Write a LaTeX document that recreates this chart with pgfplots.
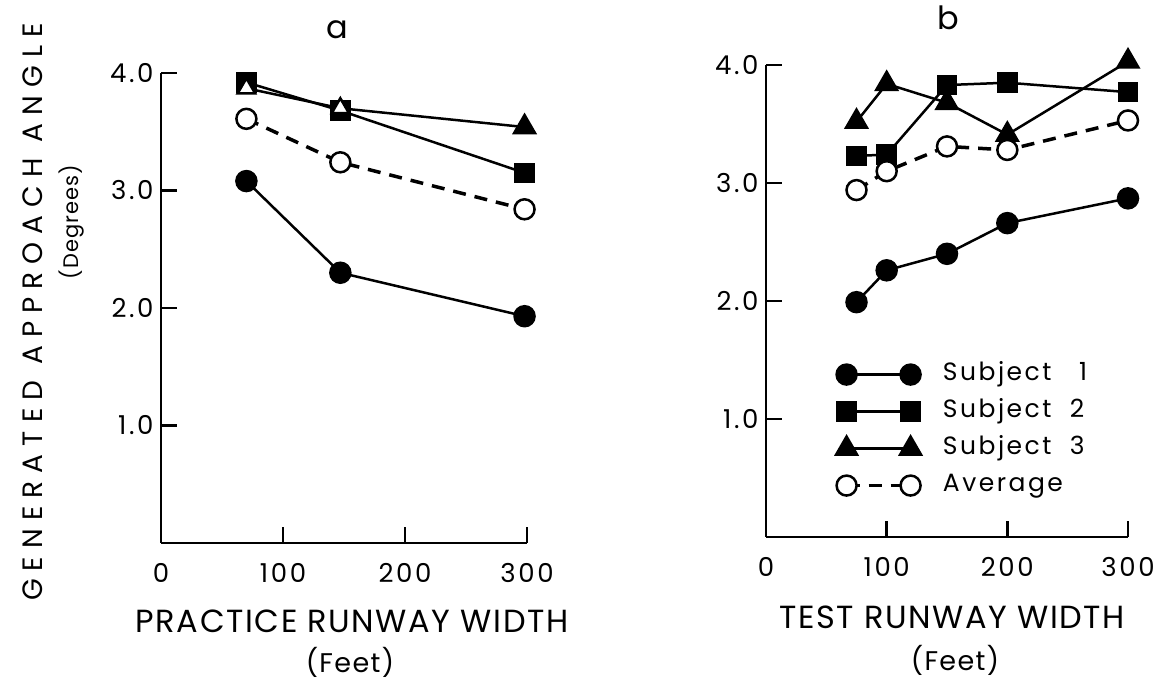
\documentclass[border=0pt]{standalone}
\usepackage{fontspec}
\setmainfont{Poppins}
\newfontfamily\ylabfont[LetterSpace=29]{Poppins}
\newfontfamily\xlabfont[LetterSpace=5]{Poppins}
\newfontfamily\tickfont[LetterSpace=10]{Poppins}
\newfontfamily\legfont[LetterSpace=10]{Poppins}
\usepackage{pgfplots}
\pgfplotsset{compat=1.18}
\pgfplotsset{
  panel/.style={
    scale only axis, enlargelimits=false,
    xmin=0,xmax=300,ymin=0,ymax=4,
    axis x line*=bottom, axis y line*=left,
    axis line style={line width=2.5pt,-},
    major tick style={line width=2.5pt,black},
    major tick length=16pt,
    tick align=inside,
    xtick={0,100,200,300},
    ytick={1,2,3,4},
    yticklabels={1.0,2.0,3.0,4.0},
    /pgf/number format/assume math mode=true,
    tick label style={font=\tickfont\fontsize{26}{26}\selectfont},
    xticklabel style={yshift=-17pt},
    yticklabel style={xshift=-4pt},
    clip=false,
  },
  s1/.style={black, solid, line width=2.5pt, mark=*, mark size=10pt, mark options={solid,fill=black}},
  s2/.style={black, solid, line width=2.5pt, mark=square*, mark size=9pt, mark options={solid,fill=black}},
  s3/.style={black, solid, line width=2.5pt, mark=triangle*, mark size=12pt, mark options={solid,fill=black}},
  av/.style={black, line width=3.5pt, dash pattern=on 13pt off 9pt, mark=*, mark size=10pt, mark options={solid,fill=white,line width=2.5pt}},
}
\begin{document}
\begin{tikzpicture}[x=1pt,y=1pt]
\path[use as bounding box] (0pt,0pt) rectangle (1165pt,682pt);
% Panel a
\begin{axis}[panel, at={(161pt,139pt)}, anchor=origin, width=366pt, height=470pt]
\addplot[av] coordinates {(70,3.61) (147,3.24) (298,2.84)};
\addplot[s1] coordinates {(70,3.08) (147,2.30) (298,1.93)};
\addplot[s2] coordinates {(70,3.92) (147,3.68) (298,3.15)};
\addplot[s3, mark indices={3}] coordinates {(70,3.87) (147,3.70) (298,3.54)};
\addplot[only marks, mark=triangle*, mark size=10pt, mark options={fill=white,line width=2.5pt}, mark indices={1,2}] coordinates {(70,3.87) (147,3.70) (298,3.54)};
\end{axis}
% Panel b
\begin{axis}[panel, at={(766pt,145pt)}, anchor=origin, width=362pt, height=472pt,
  legend style={at={(axis cs:58,1.48)}, anchor=north west, draw=none, fill=none,
    font=\legfont\fontsize{25}{25}\selectfont, row sep=13pt, inner sep=0pt,
    nodes={inner sep=0pt, text height=18pt, text depth=6pt},
    /tikz/every odd column/.append style={column sep=22pt}},
  legend cell align=left,
  legend image code/.code={\draw[#1] plot coordinates {(0pt,0pt) (64pt,0pt)};},
]
\addplot[s1] coordinates {(75,1.99) (100,2.26) (150,2.40) (200,2.66) (300,2.87)};
\addlegendentry{Subject\ \ \ 1}
\addplot[s2] coordinates {(75,3.23) (100,3.24) (150,3.83) (200,3.85) (300,3.77)};
\addlegendentry{Subject\ \ 2}
\addplot[s3] coordinates {(75,3.52) (100,3.84) (150,3.68) (200,3.41) (300,4.03)};
\addlegendentry{Subject\ \ 3}
\addplot[av] coordinates {(75,2.94) (100,3.10) (150,3.31) (200,3.28) (300,3.53)};
\addlegendentry{Average}
\end{axis}
% Text
\node[font=\fontsize{32}{32}\selectfont] at (337pt,652pt) {a};
\node[font=\fontsize{32}{32}\selectfont] at (948pt,664pt) {b};
\node[rotate=90, font=\ylabfont\fontsize{28}{28}\selectfont] at (33pt,370pt) {GENERATED APPROACH ANGLE};
\node[rotate=90, font=\xlabfont\fontsize{21}{21}\selectfont] at (72pt,460pt) {(Degrees)};
\node[font=\xlabfont\fontsize{32}{32}\selectfont] at (352pt,61pt) {PRACTICE RUNWAY WIDTH};
\node[font=\xlabfont\fontsize{27}{27}\selectfont] at (350pt,20pt) {(Feet)};
\node[font=\xlabfont\fontsize{32}{32}\selectfont] at (952pt,65pt) {TEST RUNWAY WIDTH};
\node[font=\xlabfont\fontsize{27}{27}\selectfont] at (955pt,22pt) {(Feet)};
\end{tikzpicture}
\end{document}
